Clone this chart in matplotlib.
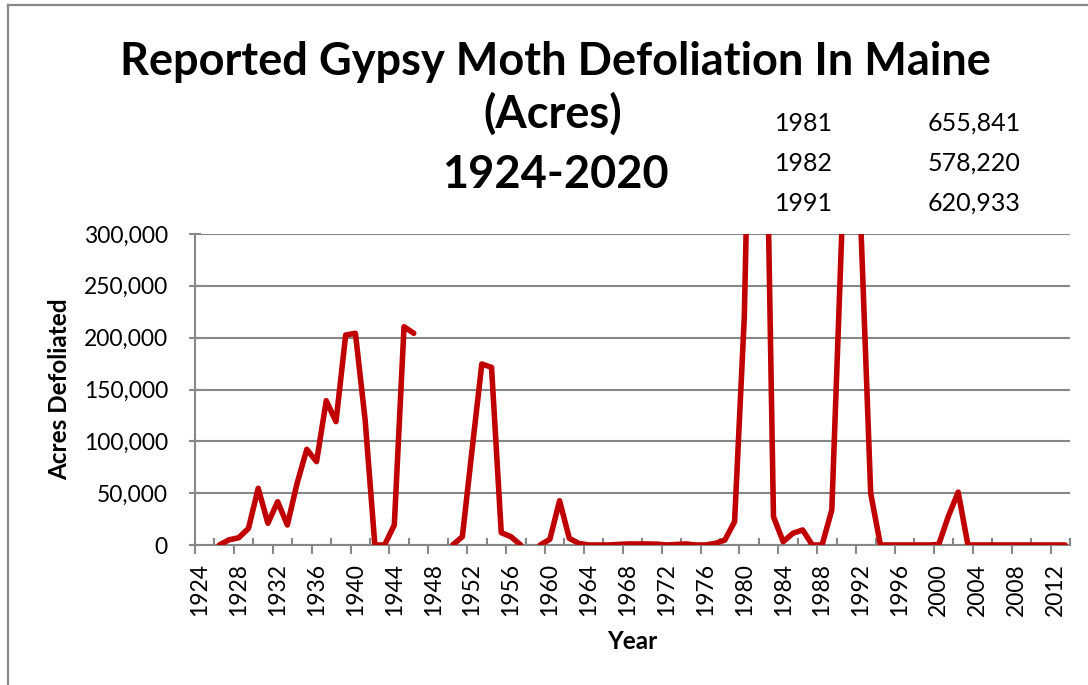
import numpy as np
import matplotlib
matplotlib.use("Agg")
import matplotlib.pyplot as plt
from matplotlib.lines import Line2D
from matplotlib.ticker import FuncFormatter
from matplotlib.transforms import blended_transform_factory

plt.rcParams["font.family"] = ["Lato", "DejaVu Sans"]

nan = np.nan

# data (acres defoliated per year, gaps = no data)
years = np.arange(1924, 2014)
acres = [
    nan, nan, 0, 5000, 7000, 16000,
    54700, 21000, 41800, 19300, 59500, 92300, 80400, 139200, 119000, 202600,
    204200, 120600, 0, 0, 19300, 210600, 204200, nan, nan, nan,
    0, 8000, 92000, 174600, 171400, 11900, 8000, 0, nan, 0,
    5500, 42700, 6400, 1500, 0, 0, 0, 500, 1000, 1000,
    1000, 800, 0, 500, 1000, 0, 0, 1500, 4800, 22500,
    220000, 655841, 578220, 27300, 3200, 11300, 14500, 0, 0, 33800,
    295000, 620933, 305000, 49900, 0, 0, 0, 0, 0, 0,
    500, 28000, 51000, 0, 0, 0, 0, 0, 0, 0,
    0, 0, 0, 0,
]

# off-scale values listed in the corner
table_years = ["1981", "1982", "1991"]
table_acres = ["655,841", "578,220", "620,933"]

label_years = years[::4]

line_color = "#C00000"
grid_color = "#878787"

W, H = 1088, 685
fig = plt.figure(figsize=(W / 100, H / 100), dpi=100)
ax = fig.add_axes([195 / W, 1 - 545 / H, 875 / W, 311 / H])

ax.plot(
    years, acres,
    color=line_color, lw=4.0,
    solid_joinstyle="round", solid_capstyle="round",
    zorder=3
)

ax.set_xlim(1923.5, 2013.5)
ax.set_ylim(0, 300000)

ax.set_yticks(np.arange(0, 300001, 50000))
ax.yaxis.set_major_formatter(FuncFormatter(lambda v, p: f"{int(v):,}"))
ax.grid(axis="y", color=grid_color, lw=1.5)
ax.set_axisbelow(True)

ax.set_xticks(label_years)
ax.set_xticklabels([str(y) for y in label_years], rotation=90)
ax.set_xticks(np.arange(1923.5, 2014, 4), minor=True)

ax.tick_params(axis="x", which="major", length=0, pad=13, labelsize=16.5)
ax.tick_params(axis="x", which="minor", direction="out", length=6.5,
               width=1.5, color=grid_color)
ax.tick_params(axis="y", direction="inout", length=9, width=1.5,
               color=grid_color, pad=15, labelsize=16.5)

# small inward ticks between the labelled ones
trans = blended_transform_factory(ax.transData, ax.transAxes)
ax.vlines(np.arange(1925.5, 2014, 4), 0, 7 / 311, transform=trans,
          color=grid_color, lw=1.5, clip_on=False)

for s in ["top", "right"]:
    ax.spines[s].set_visible(False)
for s in ["left", "bottom"]:
    ax.spines[s].set_color(grid_color)
    ax.spines[s].set_linewidth(1.5)

ax.set_xlabel("Year", fontsize=17.5, fontweight="bold", labelpad=10)
ax.set_ylabel("Acres Defoliated", fontsize=17.5, fontweight="bold", labelpad=9)

fig.text(555 / W, 1 - 75 / H, "Reported Gypsy Moth Defoliation In Maine",
         ha="center", va="baseline", fontsize=32.5, fontweight="bold")
fig.text(553 / W, 1 - 128 / H, "(Acres)",
         ha="center", va="baseline", fontsize=32.5, fontweight="bold")
fig.text(555 / W, 1 - 188 / H, "1924-2020",
         ha="center", va="baseline", fontsize=32.5, fontweight="bold")

for i in range(len(table_years)):
    yb = 1 - (131 + 40 * i) / H
    fig.text(775 / W, yb, table_years[i], fontsize=18, va="baseline")
    fig.text(928 / W, yb, table_acres[i], fontsize=18, va="baseline")

# outer frame (only left and top edges are in view)
fig.add_artist(Line2D([8 / W, 8 / W], [0, 1 - 5 / H], color="#888888", lw=1.6))
fig.add_artist(Line2D([8 / W, 1], [1 - 5 / H, 1 - 5 / H], color="#888888", lw=1.6))

fig.savefig("out.png", dpi=100)
